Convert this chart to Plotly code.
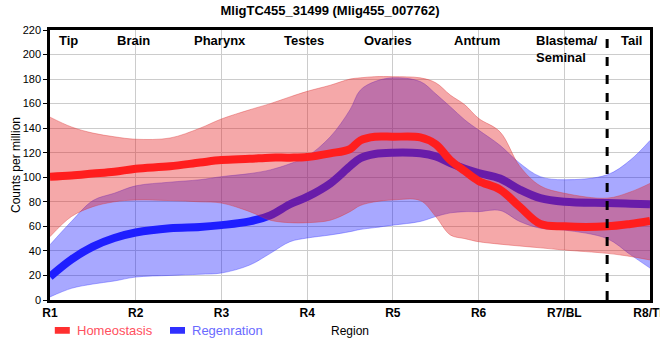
import plotly.graph_objects as go

# ---- data ----
x_pos = [1, 1.25, 1.5, 1.75, 2, 2.4, 2.75, 3, 3.33, 3.57, 3.8, 4, 4.27, 4.5, 4.62,
         4.79, 5, 5.32, 5.5, 5.67, 5.84, 6, 6.25, 6.48, 6.72, 7, 7.5, 7.77, 8]

homeo_mean = [100.5, 101.5, 103, 104.5, 107, 109, 112, 114, 115, 116, 116, 116.5, 119.5, 123, 130,
              133, 133, 132.5, 127, 114, 105, 97, 90, 76, 62, 60, 60, 62, 64.5]
homeo_upper = [149, 141, 136, 133, 131, 132, 140, 147.5, 155, 160, 165.5, 170, 175, 180, 181,
               182, 182, 181, 177, 167, 159, 148, 137, 109, 93, 87, 83, 88, 95]
homeo_lower = [51.6, 68, 76, 80, 81.5, 81, 80, 79, 72, 65, 63, 63, 65, 72, 77,
               80, 81.5, 81, 68, 53, 50, 47.5, 45.5, 44, 42.5, 40.7, 38, 35.5, 32.6]

regen_mean = [19, 33, 43.5, 50.5, 55, 58.5, 59.5, 61, 64, 69, 78, 84, 95, 109, 115.5,
              119, 120, 119.5, 117, 111.5, 107, 103.5, 99, 90, 83, 80, 79, 78.5, 78]
regen_upper = [45, 64, 81, 87, 93, 96, 98, 100.5, 103, 106, 111, 117, 133, 155, 171,
               178, 181, 178, 168, 157.5, 146.7, 138.5, 126, 111.5, 100.5, 98, 102, 114, 130]
regen_lower = [2.5, 9.5, 13, 15.5, 18.7, 20, 21, 22, 28.5, 38, 47.5, 50.5, 53, 55.7, 57.5,
               59, 61, 64, 68, 71, 72, 72, 73, 64, 58.5, 57, 50, 37, 26]

tick_vals = [1, 2, 3, 4, 5, 6, 7, 8]
tick_labels = ["R1", "R2", "R3", "R4", "R5", "R6", "R7/BL", "R8/TL"]

region_names = ["Tip", "Brain", "Pharynx", "Testes", "Ovaries", "Antrum", "Tail"]
region_pos = [1.22, 1.97, 2.98, 3.96, 4.94, 5.98, 7.78]
blastema_label = "Blastema/<br>Seminal"
blastema_pos = 6.65
tail_boundary = 7.5

FONT = "Liberation Sans, Arial, sans-serif"
RED_BAND = "rgba(228,26,28,0.38)"
BLUE_BAND = "rgba(0,0,255,0.34)"
RED_LINE = "rgb(255,30,30)"
BLUE_LINE = "rgb(30,30,255)"

fig = go.Figure()

# regeneration band
fig.add_trace(go.Scatter(x=x_pos, y=regen_lower, mode="lines", line=dict(color="rgba(60,60,255,0.5)", width=0.8, shape="spline"),
                         showlegend=False, hoverinfo="skip"))
fig.add_trace(go.Scatter(x=x_pos, y=regen_upper, mode="lines", line=dict(color="rgba(60,60,255,0.5)", width=0.8, shape="spline"),
                         fill="tonexty", fillcolor=BLUE_BAND, showlegend=False, hoverinfo="skip"))
fig.add_trace(go.Scatter(x=x_pos, y=regen_mean, mode="lines", line=dict(color=BLUE_LINE, width=8, shape="spline"),
                         name="Regenration", showlegend=False))
# homeostasis band
fig.add_trace(go.Scatter(x=x_pos, y=homeo_lower, mode="lines", line=dict(color="rgba(220,60,60,0.5)", width=0.8, shape="spline"),
                         showlegend=False, hoverinfo="skip"))
fig.add_trace(go.Scatter(x=x_pos, y=homeo_upper, mode="lines", line=dict(color="rgba(220,60,60,0.5)", width=0.8, shape="spline"),
                         fill="tonexty", fillcolor=RED_BAND, showlegend=False, hoverinfo="skip"))
fig.add_trace(go.Scatter(x=x_pos, y=homeo_mean, mode="lines", line=dict(color=RED_LINE, width=8, shape="spline"),
                         name="Homeostasis", showlegend=False))

# tail boundary
fig.add_shape(type="line", xref="x", yref="paper", x0=tail_boundary, x1=tail_boundary, y0=0, y1=1,
              line=dict(color="black", width=3, dash="dash"), layer="above")

# region labels
for name, pos in zip(region_names, region_pos):
    fig.add_annotation(x=pos, y=1, xref="x", yref="paper", text="<b>%s</b>" % name, showarrow=False,
                       xanchor="center", yanchor="top", yshift=-1, font=dict(family=FONT, size=13, color="black"))
fig.add_annotation(x=blastema_pos, y=1, xref="x", yref="paper", text="<b>%s</b>" % blastema_label.replace("<br>", "</b><br><b>"),
                   showarrow=False, xanchor="left", yanchor="top", yshift=-1, align="left",
                   font=dict(family=FONT, size=13, color="black"))

# legend drawn manually
fig.add_shape(type="rect", xref="paper", yref="paper", x0=0.008, x1=0.033, y0=-0.125, y1=-0.1, fillcolor="#ff3030",
              line=dict(width=0))
fig.add_annotation(xref="paper", yref="paper", x=0.041, y=-0.112, text="Homeostasis", showarrow=False,
                   xanchor="left", yanchor="middle", font=dict(family=FONT, size=13, color="#ff5060"))
fig.add_shape(type="rect", xref="paper", yref="paper", x0=0.2, x1=0.225, y0=-0.125, y1=-0.1, fillcolor="#3030ff",
              line=dict(width=0))
fig.add_annotation(xref="paper", yref="paper", x=0.233, y=-0.112, text="Regenration", showarrow=False,
                   xanchor="left", yanchor="middle", font=dict(family=FONT, size=13, color="#6a6aff"))

fig.update_layout(
    width=660, height=360,
    margin=dict(l=50, r=10, t=30, b=60, autoexpand=False),
    paper_bgcolor="white", plot_bgcolor="white",
    font=dict(family=FONT, size=12, color="black"),
    title=dict(text="<b>MligTC455_31499 (Mlig455_007762)</b>", x=0.5, xref="container", xanchor="center",
               y=0.985, yanchor="top", font=dict(family=FONT, size=13, color="black")),
    showlegend=False,
)
fig.update_xaxes(range=[1, 8], tickvals=tick_vals, ticktext=["<b>%s</b>" % t for t in tick_labels],
                 showgrid=True, gridcolor="#cccccc", gridwidth=1, showline=True, linecolor="black", linewidth=2.5,
                 mirror=True, ticks="", tickfont=dict(family=FONT, size=12, color="black"), automargin=False,
                 ticklabeloverflow="allow",
                 title=dict(text="Region", standoff=8, font=dict(family=FONT, size=12)), zeroline=False)
fig.update_yaxes(range=[0, 220], tickvals=list(range(0, 221, 20)), showgrid=True, gridcolor="#cccccc", gridwidth=1,
                 showline=True, linecolor="black", linewidth=2.5, mirror=True, ticks="outside", ticklen=4,
                 tickcolor="black", tickfont=dict(family=FONT, size=11, color="black"), automargin=False,
                 title=dict(text="Counts per million", standoff=0, font=dict(family=FONT, size=12)), zeroline=False)

fig.write_html("out.html", config={"displayModeBar": False},
               post_script="document.body.style.margin='0';")
